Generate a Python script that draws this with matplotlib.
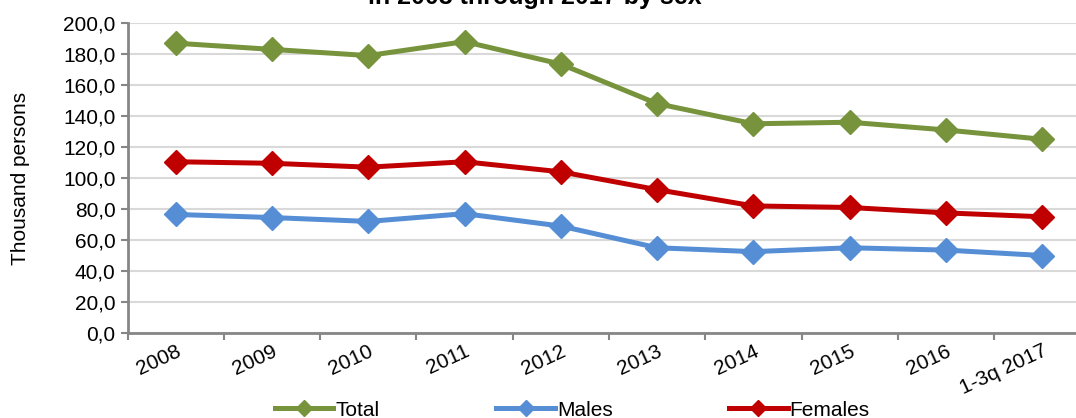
import matplotlib.pyplot as plt
import numpy as np

plt.rcParams['font.family'] = ['Liberation Sans', 'DejaVu Sans']

# Data
years = ['2008', '2009', '2010', '2011', '2012', '2013', '2014', '2015',
         '2016', '1-3q 2017']
total = [187.0, 183.0, 179.0, 188.0, 173.5, 148.0, 135.0, 136.0, 131.0, 125.0]
males = [76.5, 74.5, 72.0, 77.0, 69.0, 55.0, 52.5, 55.0, 53.5, 50.0]
females = [110.5, 109.5, 107.0, 110.5, 104.0, 92.5, 82.0, 81.0, 77.5, 75.0]

y_ticks = np.arange(0, 201, 20)


def plot_chart():
    fig = plt.figure(figsize=(10.76, 4.18), dpi=100)
    ax = fig.add_axes([0.1185, 0.2033, 0.895, 0.7416])

    x = np.arange(len(years)) + 0.5
    style = dict(lw=3.6, marker='D', markersize=12, clip_on=False)
    ax.plot(x, total, color='#77933C', label='Total', **style)
    ax.plot(x, males, color='#558ED5', label='Males', **style)
    ax.plot(x, females, color='#C00000', label='Females', **style)

    ax.set_xlim(0, len(years))
    ax.set_ylim(0, 200)

    # Grid and axes
    ax.set_yticks(y_ticks)
    ax.set_yticklabels([('%.1f' % v).replace('.', ',') for v in y_ticks],
                       fontsize=15)
    ax.yaxis.grid(True, color='#D9D9D9', lw=1.5)
    ax.set_axisbelow(True)
    for side in ['top', 'right']:
        ax.spines[side].set_visible(False)
    for side in ['left', 'bottom']:
        ax.spines[side].set_color('#868686')
        ax.spines[side].set_linewidth(2)
    ax.tick_params(axis='both', color='#868686', width=1.5, length=5)

    # Category ticks at boundaries, labels at centres
    ax.set_xticks(np.arange(len(years) + 1))
    ax.set_xticklabels([])
    ax.set_xticks(x, minor=True)
    ax.set_xticklabels(years, minor=True, rotation=25, ha='right',
                       va='top', rotation_mode='anchor', fontsize=15)
    ax.tick_params(axis='x', which='minor', length=0, pad=6)

    ax.set_ylabel('Thousand persons', fontsize=15, labelpad=24)

    fig.text(0.497, 1 - 4 / 418, 'in 2008 through 2017 by sex',
             ha='center', va='baseline', fontsize=18, fontweight='bold')

    fig.legend(loc='center', bbox_to_anchor=(0.532, 1 - 410 / 418), ncol=3,
               frameon=False, fontsize=15, handlelength=2.8,
               columnspacing=5.6, handletextpad=0.1, markerscale=0.7)

    fig.savefig('out.png', dpi=100)


plot_chart()
